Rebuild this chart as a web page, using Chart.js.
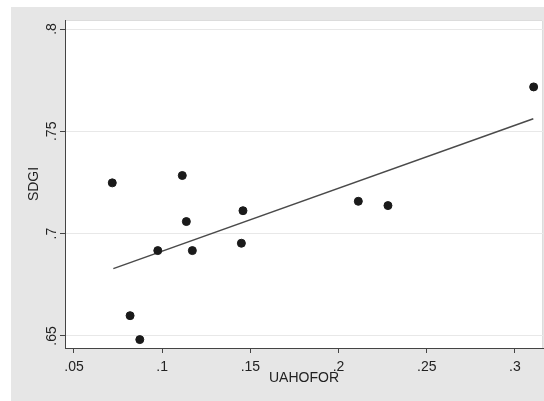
<!DOCTYPE html>
<html>
<head>
<meta charset="utf-8">
<script src="https://cdn.jsdelivr.net/npm/chart.js@4.4.1/dist/chart.umd.min.js"></script>
<style>
  html, body { margin: 0; padding: 0; background: #ffffff; }
  #wrap { width: 544px; height: 401px; position: relative; }
</style>
</head>
<body>
<div id="wrap"><canvas id="grafico"></canvas></div>
<script>
// Pontos observados (UAHOFOR, SDGI)
const uahofor = [0.0717, 0.1114, 0.1137, 0.1458, 0.0975, 0.1171, 0.1449, 0.0818, 0.0873, 0.2112, 0.2280, 0.3106];
const sdgi    = [0.7248, 0.7284, 0.7059, 0.7112, 0.6917, 0.6917, 0.6953, 0.6599, 0.6482, 0.7158, 0.7137, 0.7717];

// Reta ajustada
const fitX = [0.0723, 0.3104];
const fitY = [0.6829, 0.7561];

// Ticks
const xTicks = [0.05, 0.1, 0.15, 0.2, 0.25, 0.3];
const xTickLabels = [".05", ".1", ".15", ".2", ".25", ".3"];
const yTicks = [0.65, 0.7, 0.75, 0.8];
const yTickLabels = [".65", ".7", ".75", ".8"];

const fonte = "'Liberation Sans', Arial, sans-serif";

// Fundo cinza estilo Stata
const fundo = {
    id: 'fundo',
    beforeDraw(chart) {
        const { ctx, chartArea: a } = chart;
        ctx.save();
        ctx.fillStyle = '#ffffff';
        ctx.fillRect(0, 0, chart.width, chart.height);
        ctx.fillStyle = '#e6e6e6';
        ctx.fillRect(11, 7, chart.width - 11, chart.height - 7);
        ctx.fillStyle = '#ffffff';
        ctx.fillRect(a.left, a.top, a.right - a.left, a.bottom - a.top);
        ctx.strokeStyle = '#dcdcdc';
        ctx.lineWidth = 1;
        ctx.beginPath();
        ctx.moveTo(a.left, a.top + 0.5);
        ctx.lineTo(a.right - 0.5, a.top + 0.5);
        ctx.lineTo(a.right - 0.5, a.bottom);
        ctx.stroke();
        ctx.restore();
    }
};

const pontos = uahofor.map((x, i) => ({ x: x, y: sdgi[i] }));
const reta = fitX.map((x, i) => ({ x: x, y: fitY[i] }));

const ctx = document.getElementById('grafico').getContext('2d');

const grafico = new Chart(ctx, {
    type: 'scatter',
    data: {
        datasets: [{
            label: 'SDGI',
            data: pontos,
            backgroundColor: '#1a1a1a',
            borderColor: '#1a1a1a',
            pointRadius: 4,
            pointHoverRadius: 4
        }, {
            type: 'line',
            label: 'Fitted values',
            data: reta,
            borderColor: '#4a4a4a',
            borderWidth: 1.5,
            pointRadius: 0,
            fill: false
        }]
    },
    options: {
        responsive: true,
        maintainAspectRatio: false,
        animation: false,
        layout: { autoPadding: false, padding: { left: 0, top: 20, right: 1, bottom: 0 } },
        plugins: {
            legend: { display: false },
            tooltip: { enabled: false }
        },
        scales: {
            x: {
                type: 'linear',
                min: 0.0449,
                max: 0.3159,
                afterFit(scale) {
                    scale.height = 53;
                    scale.paddingLeft = 0;
                    scale.paddingRight = 0;
                },
                afterBuildTicks(scale) { scale.ticks = xTicks.map(v => ({ value: v })); },
                ticks: {
                    callback: (v, i) => xTickLabels[i],
                    color: '#222',
                    font: { family: fonte, size: 14 },
                    padding: 6,
                    maxRotation: 0,
                    autoSkip: false
                },
                grid: { drawOnChartArea: false, tickLength: 5, tickColor: '#444' },
                border: { color: '#444', width: 1 },
                title: {
                    display: true,
                    text: 'UAHOFOR',
                    color: '#222',
                    font: { family: fonte, size: 14 },
                    padding: { top: 0, bottom: 14 }
                }
            },
            y: {
                type: 'linear',
                min: 0.6441,
                max: 0.8044,
                afterFit(scale) {
                    scale.width = 65;
                    scale.paddingTop = 0;
                    scale.paddingBottom = 0;
                },
                afterBuildTicks(scale) { scale.ticks = yTicks.map(v => ({ value: v })); },
                ticks: {
                    callback: (v, i) => yTickLabels[i],
                    color: '#222',
                    font: { family: fonte, size: 14 },
                    padding: -2,
                    minRotation: 90,
                    maxRotation: 90,
                    crossAlign: 'center',
                    autoSkip: false
                },
                grid: { color: '#e8e8e8', tickLength: 5, tickColor: '#444' },
                border: { color: '#444', width: 1 },
                title: {
                    display: true,
                    text: 'SDGI',
                    color: '#222',
                    font: { family: fonte, size: 14 },
                    padding: { top: 26, bottom: 0 }
                }
            }
        }
    },
    plugins: [fundo]
});
</script>
</body>
</html>
